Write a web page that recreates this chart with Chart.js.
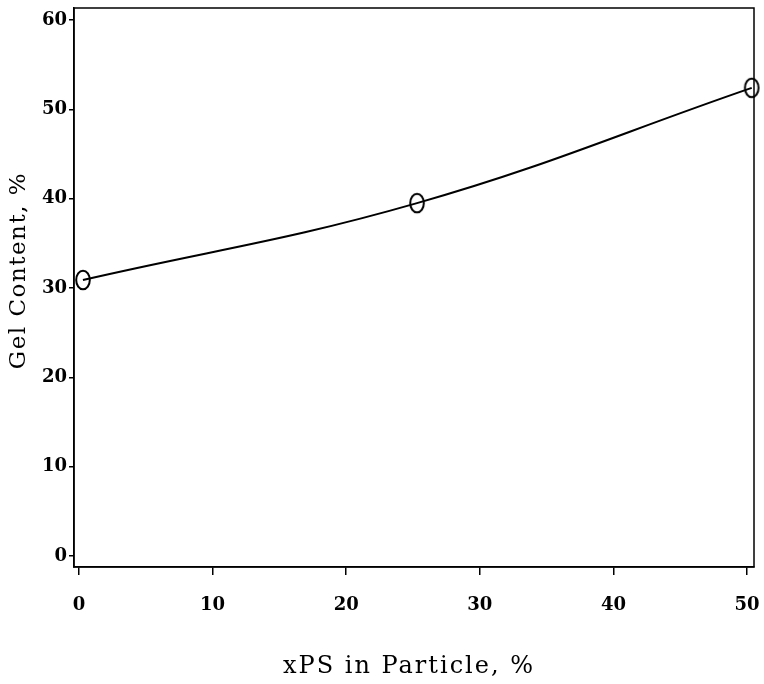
<!DOCTYPE html>
<html>
<head>
<meta charset="utf-8">
<script src="https://cdn.jsdelivr.net/npm/chart.js@4/dist/chart.umd.min.js"></script>
<style>
  html, body { margin: 0; padding: 0; background: #fff; }
  #wrap { width: 764px; height: 684px; }
</style>
</head>
<body>
<div id="wrap"><canvas id="c" width="764" height="684"></canvas></div>
<script>
// Gel content vs. xPS fraction in the particle
const xpsPercent = [0.3, 25.3, 50.35];
const gelContent = [30.9, 39.5, 52.4];
const xTicks = [0, 10, 20, 30, 40, 50];
const yTicks = [0, 10, 20, 30, 40, 50, 60];
const xTitle = 'xPS in Particle, %';
const yTitle = 'Gel Content, %';

// Open elliptical marker
function ellipseMarker() {
  const cv = document.createElement('canvas');
  cv.width = 18; cv.height = 24;
  const g = cv.getContext('2d');
  g.strokeStyle = '#000';
  g.lineWidth = 2;
  g.beginPath();
  g.ellipse(9, 12, 6.8, 9.3, 0, 0, Math.PI * 2);
  g.stroke();
  return cv;
}

// Frame around the plotting area
const framePlugin = {
  id: 'frame',
  afterDraw(chart) {
    const a = chart.chartArea, ctx = chart.ctx;
    ctx.save();
    ctx.strokeStyle = '#000';
    ctx.lineWidth = 1.5;
    ctx.strokeRect(a.left, a.top, a.right - a.left, a.bottom - a.top);
    ctx.restore();
  }
};

// Axis titles, set in a widely spaced serif face
const titlePlugin = {
  id: 'axisTitles',
  afterDraw(chart) {
    const a = chart.chartArea, ctx = chart.ctx;
    ctx.save();
    ctx.fillStyle = '#000';
    ctx.textAlign = 'center';
    ctx.textBaseline = 'middle';
    ctx.font = '24px "DejaVu Serif"';
    ctx.letterSpacing = '2px';
    ctx.fillText(xTitle, (a.left + a.right) / 2 - 5, chart.height - 17);
    ctx.font = '23px "DejaVu Serif"';
    ctx.letterSpacing = '1.5px';
    ctx.translate(19, (a.top + a.bottom) / 2 - 17);
    ctx.rotate(-Math.PI / 2);
    ctx.fillText(yTitle, 0, 0);
    ctx.restore();
  }
};

const tickFont = { family: 'DejaVu Serif', size: 18, weight: 'bold' };

new Chart(document.getElementById('c'), {
  type: 'scatter',
  data: {
    datasets: [{
      data: xpsPercent.map((x, i) => ({ x, y: gelContent[i] })),
      showLine: true,
      tension: 0.4,
      borderColor: '#000',
      borderWidth: 2,
      pointStyle: ellipseMarker(),
      clip: false
    }]
  },
  options: {
    responsive: false,
    animation: false,
    devicePixelRatio: 1,
    layout: { padding: { top: 8, right: 10, left: 0, bottom: 0 } },
    plugins: { legend: { display: false }, tooltip: { enabled: false } },
    scales: {
      x: {
        type: 'linear',
        min: -0.37,
        max: 50.52,
        afterBuildTicks: s => { s.ticks = xTicks.map(v => ({ value: v })); },
        afterFit: s => { s.height = 117; s.paddingLeft = 0; s.paddingRight = 0; },
        grid: { drawOnChartArea: false, drawTicks: true, tickLength: 8, tickColor: '#000', lineWidth: 1.5 },
        border: { display: true, color: '#000', width: 1.5 },
        ticks: { color: '#000', font: tickFont, padding: 20, maxRotation: 0 }
      },
      y: {
        type: 'linear',
        min: -1.23,
        max: 61.34,
        afterBuildTicks: s => { s.ticks = yTicks.map(v => ({ value: v })); },
        afterFit: s => { s.width = 74; s.paddingTop = 0; s.paddingBottom = 0; },
        grid: { drawOnChartArea: false, drawTicks: true, tickLength: 5, tickColor: '#000', lineWidth: 1.5 },
        border: { display: true, color: '#000', width: 1.5 },
        ticks: { color: '#000', font: tickFont, padding: 2 }
      }
    }
  },
  plugins: [framePlugin, titlePlugin]
});
</script>
</body>
</html>
